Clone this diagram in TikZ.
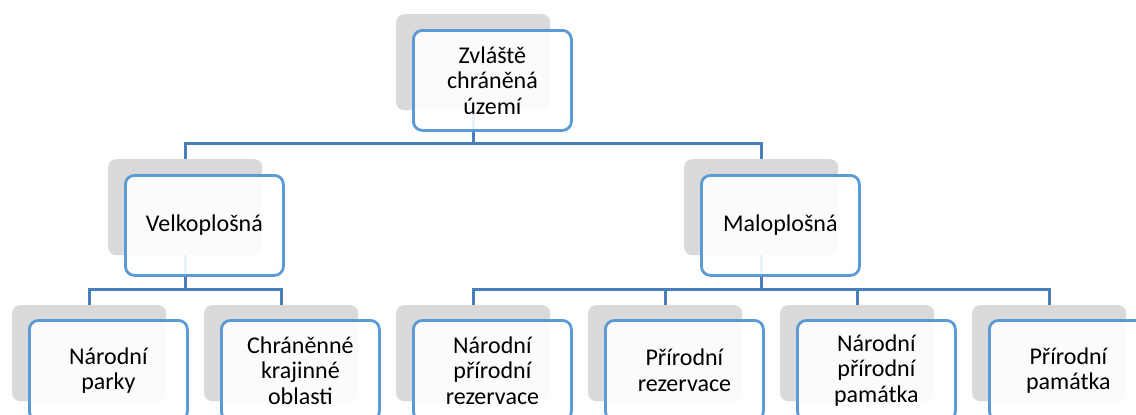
\documentclass[tikz,border=0pt]{standalone}
\usepackage{fontspec}
\setmainfont{Carlito}
\definecolor{backgray}{HTML}{D9D9D9}
\definecolor{edgeblue}{HTML}{5B9BD5}
\definecolor{linkblue}{HTML}{4A7EBB}
\begin{document}
\begin{tikzpicture}[x=1pt,y=-1pt,
  backbox/.style={fill=backgray, rounded corners=8pt, minimum width=154pt, minimum height=96pt, inner sep=0pt, anchor=north west},
  frontbox/.style={draw=edgeblue, line width=2.8pt, fill=white, fill opacity=0.9, text opacity=1, rounded corners=9pt, minimum width=158pt, minimum height=100pt, inner sep=0pt, anchor=north west, text width=150pt, align=center, font=\fontsize{24}{25.5}\selectfont},
  link/.style={draw=linkblue, line width=2.6pt}]
\useasboundingbox (0,0) rectangle (1136,415);
\clip (0,0) rectangle (1136,415);
% back shapes
\node[backbox] (g0) at (396,14) {};
\node[backbox] (g1) at (108,159) {};
\node[backbox] (g2) at (684,159) {};
\node[backbox] (g3) at (12,305) {};
\node[backbox] (g4) at (204,305) {};
\node[backbox] (g5) at (396,305) {};
\node[backbox] (g6) at (588,305) {};
\node[backbox] (g7) at (780,305) {};
\node[backbox] (g8) at (972,305) {};
% connectors
\draw[link] (g0.south) -- ++(0,33) -| (g1.north);
\draw[link] (g0.south) -- ++(0,33) -| (g2.north);
\draw[link] (g1.south) -- ++(0,34) -| (g3.north);
\draw[link] (g1.south) -- ++(0,34) -| (g4.north);
\draw[link] (g2.south) -- ++(0,34) -| (g5.north);
\draw[link] (g2.south) -- ++(0,34) -| (g6.north);
\draw[link] (g2.south) -- ++(0,34) -| (g7.north);
\draw[link] (g2.south) -- ++(0,34) -| (g8.north);
% front shapes
\node[frontbox] (w0) at (412,29) {Zvláště\\chráněná\\území};
\node[frontbox] (w1) at (124,174) {Velkoplošná};
\node[frontbox] (w2) at (700,174) {Maloplošná};
\node[frontbox] (w3) at (28,319) {Národní\\parky};
\node[frontbox] (w4) at (220,319) {Chráněnné\\krajinné\\oblasti};
\node[frontbox] (w5) at (412,319) {Národní\\přírodní\\rezervace};
\node[frontbox] (w6) at (604,319) {Přírodní\\rezervace};
\node[frontbox] (w7) at (796,319) {Národní\\přírodní\\památka};
\node[frontbox] (w8) at (988,319) {Přírodní\\památka};
\end{tikzpicture}
\end{document}
